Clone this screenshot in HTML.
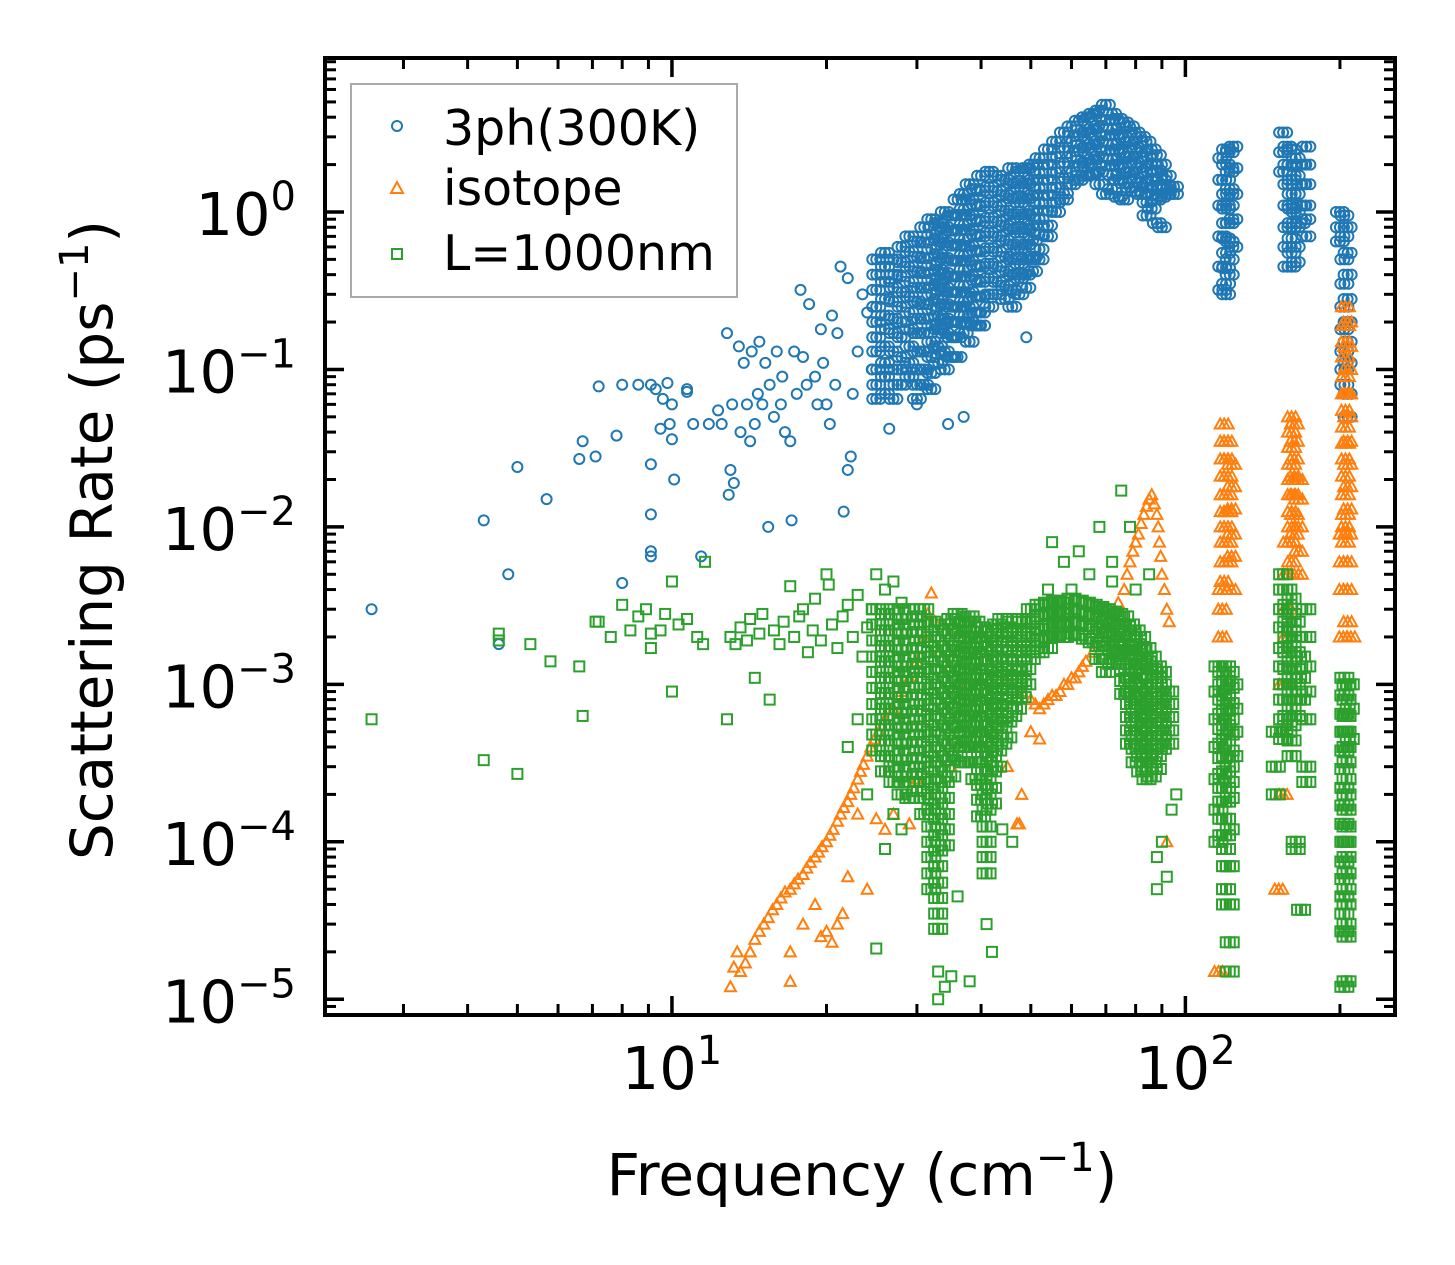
<!DOCTYPE html>
<html><head><meta charset="utf-8">
<style>
html,body{margin:0;padding:0;background:#fff;}
svg{display:block;font-family:"DejaVu Sans","Liberation Sans",sans-serif;}
</style></head>
<body>
<svg id="chart" width="1455" height="1265" viewBox="0 0 1455 1265" xmlns="http://www.w3.org/2000/svg">
<rect x="0" y="0" width="1455" height="1265" fill="#fff"/>
<g id="marks"></g>
<g id="axes"></g>
<g id="legend">
<rect x="351" y="84" width="386" height="213" fill="#fff" fill-opacity="0.8" stroke="#aaa" stroke-width="2"/>
<circle cx="397" cy="126" r="5" fill="none" stroke="#1f77b4" stroke-width="2"/>
<text x="443" y="145" font-size="49" fill="#000">3ph(300K)</text>
<path d="M391,193 L397,182 L403,193 Z" fill="none" stroke="#ff7f0e" stroke-width="2"/>
<text x="443" y="205" font-size="49" fill="#000">isotope</text>
<rect x="392" y="249" width="10" height="10" fill="none" stroke="#2ca02c" stroke-width="2"/>
<text x="443" y="270" font-size="49" fill="#000">L=1000nm</text>
</g>
<text x="862" y="1195" font-size="58" text-anchor="middle">Frequency (cm<tspan dy="-24" font-size="40">−1</tspan><tspan dy="24">)</tspan></text>
<text transform="translate(112,540) rotate(-90)" font-size="58" text-anchor="middle">Scattering Rate (ps<tspan dy="-24" font-size="40">−1</tspan><tspan dy="24">)</tspan></text>
</svg>
<script>
// ---- data (frequency cm^-1, scattering rate ps^-1) ----
const threePhSparse = [[2.6,3e-3],[4.3,1.1e-2],[4.6,1.8e-3],[4.8,5e-3],[5.0,2.4e-2],[5.7,1.5e-2],[6.6,2.7e-2],[6.7,3.5e-2],[7.1,2.8e-2],[7.2,7.8e-2],[7.8,3.8e-2],[8.0,8e-2],[8.0,4.4e-3],[8.6,8e-2],[9.1,8e-2],[9.1,2.5e-2],[9.1,1.2e-2],[9.1,7e-3],[9.1,6.5e-3],[9.3,7.5e-2],[9.5,4.2e-2],[9.6,6.5e-2],[9.8,8.2e-2],[9.9,4.5e-2],[10.0,3.6e-2],[10.0,6e-2],[10.1,2e-2],[10.7,7.5e-2],[10.7,7.2e-2],[11.0,4.5e-2],[11.4,6.5e-3],[11.8,4.5e-2],[12.3,5.5e-2],[12.5,4.5e-2],[12.8,1.7e-1],[12.9,1.6e-2],[13.0,2.3e-2],[13.2,1.9e-2],[13.1,6e-2],[13.5,1.4e-1],[13.6,4e-2],[13.8,1.1e-1],[14.0,6e-2],[14.2,3.5e-2],[14.3,1.3e-1],[14.5,4.5e-2],[14.7,7e-2],[14.8,1.5e-1],[15.0,6e-2],[15.2,1.1e-1],[15.4,1e-2],[15.5,8e-2],[15.8,5e-2],[16.0,1.3e-1],[16.3,6e-2],[16.4,9e-2],[16.6,4e-2],[17.0,3.5e-2],[17.1,1.1e-2],[17.3,1.3e-1],[17.5,7e-2],[17.8,3.2e-1],[18.0,1.2e-1],[18.3,8e-2],[18.5,2.6e-1],[19.0,9e-2],[19.2,6e-2],[19.5,1.8e-1],[19.7,1.1e-1],[20.0,6e-2],[20.3,4.5e-2],[20.5,2.2e-1],[20.8,8e-2],[21.0,1.7e-1],[21.3,4.5e-1],[21.6,1.25e-2],[22.0,2.3e-2],[22.0,3.8e-1],[22.3,2.8e-2],[22.5,7e-2],[23.0,1.3e-1],[23.5,3e-1],[24.0,2.3e-1],[24.5,1e-1],[26.5,4.2e-2],[34.5,4.5e-2],[49,1.6e-1],[37,5e-2],[30,6e-2],[29,9e-2]];
const threePhCols = [
[25,[0.5,0.4,0.32,0.25,0.2,0.16,0.13,0.1,0.08,0.065]],
[26,[0.55,0.45,0.36,0.28,0.22,0.18,0.14,0.11,0.09,0.07]],
[27,[0.5,0.4,0.33,0.27,0.21,0.17,0.13,0.1,0.08,0.065]],
[28,[0.6,0.48,0.39,0.31,0.25,0.2,0.16,0.12,0.1,0.08]],
[29,[0.7,0.56,0.45,0.36,0.29,0.23,0.18,0.14,0.11,0.09]],
[30,[0.65,0.52,0.42,0.33,0.27,0.21,0.17,0.13,0.1,0.08,0.065]],
[31,[0.8,0.64,0.51,0.41,0.33,0.26,0.21,0.17,0.13,0.1,0.08]],
[32,[0.9,0.72,0.58,0.46,0.37,0.3,0.24,0.19,0.15,0.12,0.095,0.075]],
[33,[0.85,0.68,0.54,0.43,0.35,0.28,0.22,0.18,0.14,0.11]],
[34,[1.0,0.8,0.64,0.51,0.41,0.33,0.26,0.21,0.17,0.13,0.1]],
[35,[0.95,0.76,0.61,0.49,0.39,0.31,0.25,0.2,0.16,0.12]],
[36,[1.2,0.96,0.77,0.62,0.49,0.39,0.31,0.25,0.2,0.16,0.12]],
[37,[1.3,1.04,0.83,0.67,0.53,0.43,0.34,0.27,0.22,0.17]],
[38,[1.5,1.2,0.96,0.77,0.61,0.49,0.39,0.31,0.25,0.2,0.15]],
[39,[1.4,1.12,0.9,0.72,0.57,0.46,0.37,0.29,0.23,0.19]],
[40,[1.7,1.36,1.09,0.87,0.7,0.56,0.45,0.36,0.29,0.23,0.19]],
[41.5,[1.8,1.44,1.15,0.92,0.74,0.59,0.47,0.38,0.3,0.25]],
[43,[1.7,1.36,1.09,0.87,0.7,0.56,0.45,0.36,0.3]],
[44.5,[1.6,1.28,1.02,0.82,0.66,0.52,0.42,0.34,0.28]],
[46,[1.9,1.52,1.22,0.97,0.78,0.62,0.5,0.4,0.32,0.25]],
[47.5,[1.8,1.44,1.15,0.92,0.74,0.59,0.47,0.38,0.3]],
[49,[1.9,1.52,1.22,0.97,0.78,0.62,0.5,0.4,0.33]],
[50.5,[2.0,1.6,1.28,1.02,0.82,0.66,0.52,0.42]],
[52,[2.2,1.76,1.41,1.13,0.9,0.72,0.58,0.5]],
[54,[2.5,2.0,1.6,1.28,1.02,0.82,0.7]],
[56,[2.8,2.24,1.79,1.43,1.15,1.0]],
[58,[3.2,2.56,2.05,1.64,1.31,1.2]],
[60,[3.5,2.8,2.24,1.79,1.5]],
[62,[3.8,3.04,2.43,1.95,1.6]],
[64,[4.0,3.2,2.56,2.05,1.7]],
[66,[4.2,3.36,2.69,2.15,1.75]],
[68,[4.4,3.52,2.82,2.25,1.8,1.5]],
[70,[4.8,3.84,3.07,2.46,1.97,1.3]],
[72,[4.2,3.36,2.69,2.15,1.72,1.4]],
[74,[3.9,3.12,2.5,2.0,1.6,1.25]],
[76,[3.7,2.96,2.37,1.9,1.52,1.2]],
[78,[3.5,2.8,2.24,1.79,1.43]],
[80,[3.2,2.56,2.05,1.64,1.35]],
[82,[3.0,2.4,1.92,1.54,1.3]],
[84,[2.8,2.24,1.79,1.43,1.15,0.95]],
[86,[2.5,2.0,1.6,1.28,1.05]],
[88,[2.3,1.84,1.47,1.2,0.85]],
[90,[2.0,1.6,1.4,1.25,0.8]],
[92,[1.7,1.45,1.3]],
[95,[1.45,1.3]]
];
const threePhClusters = [
[118,[2.2,1.6,1.1,0.7,0.45,0.32]],[120,[2.5,2.0,1.6,1.3,1.05,0.85,0.68,0.55,0.44,0.35,0.3]],[122,[2.4,1.8,1.4,1.1,0.85,0.65,0.5,0.4]],[124,[2.6,1.9,1.3,0.9,0.6]],
[155,[3.2,2.4,1.8]],[158,[2.6,2.0,1.5,1.1,0.8,0.6,0.45]],[161,[2.5,2.0,1.6,1.3,1.05,0.85,0.68,0.55,0.45]],[164,[2.2,1.7,1.3,1.0,0.8,0.6,0.48]],[168,[2.0,1.5,1.1,0.85]],[172,[2.6,2.0,1.5,1.1,0.9,0.7]],
[200,[1.0,0.8,0.65]],[204,[0.95,0.7,0.5,0.35,0.25,0.18,0.13,0.1,0.08]],[207,[0.8,0.55,0.4,0.28,0.2,0.15,0.11,0.07,0.05]]
];
const isotopeLine = [[13,1.2e-5],[13.2,1.6e-5],[13.4,2e-5],[13.6,1.5e-5],[13.9,1.7e-5],[14.2,2e-5],[14.5,2.4e-5],[14.8,2.7e-5],[15.1,3e-5],[15.4,3.3e-5],[15.7,3.7e-5],[16,4e-5],[16.3,4.4e-5],[16.6,4.8e-5],[17,5e-5],[17.3,5.4e-5],[17.6,5.8e-5],[18,6.2e-5],[18.3,6.8e-5],[18.6,7.4e-5],[19,8e-5],[19.3,8.6e-5],[19.6,9.3e-5],[20,1e-4],[20.3,1.1e-4],[20.6,1.2e-4],[21,1.35e-4],[21.3,1.5e-4],[21.6,1.65e-4],[22,1.8e-4],[22.3,2e-4],[22.6,2.2e-4],[23,2.5e-4],[23.3,2.8e-4],[23.6,3.1e-4],[24,3.5e-4],[24.4,4e-4],[24.8,4.5e-4],[25.3,5e-4],[26,6e-4],[27,7e-4],[28,9e-4],[29,1.1e-3],[30,1.4e-3],[31,2e-3],[31.5,2.8e-3],[32,3.8e-3],[32.5,2.5e-3],[33,1.6e-3],[34,1.2e-3],[36,1e-3],[40,1e-3],[45,1e-3],[48,9e-4],[50,8e-4],[51,7.5e-4],[52,7e-4],[53,7.5e-4],[54,8e-4],[55,8.5e-4],[56,8.5e-4],[57,9e-4],[58,1e-3],[59,1e-3],[60,1.1e-3],[61,1.1e-3],[62,1.2e-3],[63,1.3e-3],[64,1.4e-3],[66,1.6e-3],[68,2e-3],[70,2.4e-3],[72,2.8e-3],[74,3.3e-3],[76,4e-3],[77,5e-3],[78,6e-3],[79,7e-3],[80,8e-3],[81,9e-3],[82,1.05e-2],[83,1.2e-2],[84,1.35e-2],[85,1.5e-2],[86,1.6e-2],[87,1.4e-2],[88,1.2e-2],[88.5,1e-2],[89,8e-3],[89.5,6.5e-3],[90,5e-3],[91,4e-3],[92,3e-3],[93,2.5e-3]];
const isotopeScatter = [[17,2e-5],[17,1.3e-5],[18,3e-5],[19,4e-5],[19.5,2.5e-5],[20,2.7e-5],[20.5,2.3e-5],[21,3e-5],[21.5,3.5e-5],[22,6e-5],[23,1.5e-4],[24,5e-5],[25,1.4e-4],[26,1.2e-4],[27,1.5e-4],[29,1.3e-4],[30,2.5e-4],[35,3e-4],[40,4e-4],[45,3e-4],[47,1.3e-4],[47.5,1.3e-4],[48,2e-4],[50,5e-4],[52,4.5e-4],[74,2e-3],[85,8e-4],[92,1e-4]];
const isotopeSpikes = [
[116,[1.5e-5]],[118,[4e-3,3e-3,2e-3]],[119,[4.5e-2,3.5e-2,2.7e-2,2.1e-2,1.6e-2,1.25e-2,1e-2,8e-3,6e-3,4.5e-3]],[121,[3.5e-2,2.7e-2,2.1e-2,1.6e-2,1.25e-2,1e-2,8e-3,6e-3]],[123,[2.5e-2,1.8e-2,1.3e-2,9e-3,6.5e-3,4e-3]],
[152,[5e-5]],[155,[2e-4,1e-3]],[158,[8e-3,5e-3,3e-3,2e-3]],[161,[5e-2,4e-2,3.2e-2,2.5e-2,2e-2,1.6e-2,1.25e-2,1e-2,8e-3,6e-3]],[163,[4.5e-2,3.5e-2,2.7e-2,2.1e-2,1.6e-2,1.2e-2,9e-3]],[166,[2e-2,1.5e-2,1e-2,7e-3,5e-3]],
[203,[2e-3,4e-3,6e-3,9e-3]],[205,[0.25,0.19,0.15,0.12,0.09,0.07,0.055,0.043,0.034,0.027,0.021,0.016,0.012,0.01,8e-3]],[207,[0.2,0.14,0.1,0.07,0.05,0.035,0.025,0.018,0.013,9e-3,6e-3,4e-3,2.5e-3]],[210,[2e-3]]
];
const boundarySparse = [[2.6,6e-4],[4.3,3.3e-4],[4.6,2.1e-3],[4.6,1.9e-3],[5.0,2.7e-4],[5.3,1.8e-3],[5.8,1.4e-3],[6.6,1.3e-3],[6.7,6.3e-4],[7.1,2.5e-3],[7.2,2.5e-3],[7.6,2e-3],[8.0,3.2e-3],[8.3,2.2e-3],[8.6,2.7e-3],[8.9,3e-3],[9.1,1.7e-3],[9.1,2.1e-3],[9.5,2.2e-3],[9.7,2.8e-3],[10.0,4.5e-3],[10.0,9e-4],[10.3,2.4e-3],[10.7,2.6e-3],[11.2,2e-3],[11.5,1.8e-3],[11.6,6e-3],[12.8,6e-4],[13.0,2e-3],[13.3,1.8e-3],[13.6,2.3e-3],[14.0,1.9e-3],[14.2,2.6e-3],[14.5,1.1e-3],[14.8,2.1e-3],[15.0,2.8e-3],[15.5,8e-4],[15.8,2.2e-3],[16.2,1.8e-3],[16.5,2.5e-3],[17.0,4.2e-3],[17.3,2e-3],[17.7,2.7e-3],[18.0,3e-3],[18.4,1.6e-3],[18.8,2.2e-3],[19.0,3.5e-3],[19.5,1.9e-3],[20.0,5e-3],[20.2,4.3e-3],[20.5,2.4e-3],[21.0,1.7e-3],[21.5,2.7e-3],[22,3.2e-3],[22.5,2e-3],[23,3.7e-3],[23.5,1.5e-3],[24,2.3e-3],[24.5,3e-3],[25,5e-3],[26,4e-3],[27,4.5e-3],[28,3.3e-3],[22,4e-4],[23,6e-4],[24,2e-4],[25,2.1e-5],[26,9e-5],[27,1.5e-4],[28,1.2e-4],[38,1.3e-5],[36,4.5e-5],[41,3e-5],[42,2e-5],[46,1e-4],[44,1.2e-4],[34,1.2e-5],[33,1.5e-5],[35,1.4e-5],[33,1e-5],[55,8e-3],[58,6e-3],[62,7e-3],[65,5e-3],[68,1e-2],[72,6e-3],[75,1.7e-2],[78,1e-2],[85,5e-3],[54,4e-3],[60,4e-3],[72,4.5e-3],[80,4e-3],[88,8e-5],[90,1e-4],[92,6e-5],[94,1.6e-4],[88,5e-5],[96,2e-4]];
const boundaryCols = [
[25,[3e-3,2.4e-3,1.9e-3,1.5e-3,1.2e-3,9.5e-4,7.5e-4,6e-4,4.8e-4,3.8e-4]],
[26,[2.8e-3,2.2e-3,1.75e-3,1.4e-3,1.1e-3,8.8e-4,7e-4,5.5e-4,4.4e-4,3.5e-4,2.8e-4]],
[27,[3e-3,2.4e-3,1.9e-3,1.5e-3,1.2e-3,9.5e-4,7.5e-4,6e-4,4.8e-4,3.8e-4,3e-4,2.4e-4]],
[28,[2.6e-3,2.1e-3,1.65e-3,1.3e-3,1.05e-3,8.3e-4,6.6e-4,5.3e-4,4.2e-4,3.3e-4,2.6e-4,2e-4]],
[29,[3e-3,2.4e-3,1.9e-3,1.5e-3,1.2e-3,9.5e-4,7.5e-4,6e-4,4.8e-4,3.8e-4,3e-4,2.4e-4,1.9e-4]],
[30,[2.7e-3,2.15e-3,1.7e-3,1.35e-3,1.1e-3,8.6e-4,6.8e-4,5.4e-4,4.3e-4,3.4e-4,2.7e-4,2.1e-4]],
[31,[3e-3,2.4e-3,1.9e-3,1.5e-3,1.2e-3,9.5e-4,7.5e-4,6e-4,4.8e-4,3.8e-4,3e-4,2.4e-4,1.9e-4,1.5e-4]],
[32,[2.5e-3,2e-3,1.6e-3,1.25e-3,1e-3,8e-4,6.3e-4,5e-4,4e-4,3.2e-4,2.5e-4,2e-4,1.6e-4,1.25e-4,1e-4,8e-5,6.3e-5,5e-5]],
[33,[2.2e-3,1.75e-3,1.4e-3,1.1e-3,8.8e-4,7e-4,5.5e-4,4.4e-4,3.5e-4,2.8e-4,2.2e-4,1.75e-4,1.4e-4,1.1e-4,8.8e-5,7e-5,5.5e-5,4.4e-5,3.5e-5,2.8e-5]],
[34,[2.4e-3,1.9e-3,1.5e-3,1.2e-3,9.5e-4,7.5e-4,6e-4,4.8e-4,3.8e-4,3e-4,2.4e-4,1.9e-4,1.5e-4,1.2e-4,9.5e-5]],
[35,[2.6e-3,2.1e-3,1.65e-3,1.3e-3,1.05e-3,8.3e-4,6.6e-4,5.3e-4,4.2e-4,3.3e-4,2.6e-4]],
[36,[2.8e-3,2.2e-3,1.75e-3,1.4e-3,1.1e-3,8.8e-4,7e-4,5.5e-4,4.4e-4,3.5e-4]],
[37,[2.5e-3,2e-3,1.6e-3,1.25e-3,1e-3,8e-4,6.3e-4,5e-4,4e-4,3.2e-4]],
[38,[2.7e-3,2.15e-3,1.7e-3,1.35e-3,1.1e-3,8.6e-4,6.8e-4,5.4e-4,4.3e-4]],
[39,[2.5e-3,2e-3,1.6e-3,1.25e-3,1e-3,8e-4,6.3e-4,5e-4,4e-4,3.2e-4,2.5e-4]],
[40,[2.3e-3,1.85e-3,1.45e-3,1.15e-3,9.2e-4,7.3e-4,5.8e-4,4.6e-4,3.7e-4,2.9e-4,2.3e-4,1.85e-4,1.45e-4]],
[41,[2e-3,1.6e-3,1.25e-3,1e-3,8e-4,6.3e-4,5e-4,4e-4,3.2e-4,2.5e-4,2e-4,1.6e-4,1.25e-4,1e-4,8e-5,6.3e-5]],
[42,[2.2e-3,1.75e-3,1.4e-3,1.1e-3,8.8e-4,7e-4,5.5e-4,4.4e-4,3.5e-4,2.8e-4,2.2e-4,1.75e-4]],
[43,[2.4e-3,1.9e-3,1.5e-3,1.2e-3,9.5e-4,7.5e-4,6e-4,4.8e-4,3.8e-4,3e-4]],
[44,[2.6e-3,2.1e-3,1.65e-3,1.3e-3,1.05e-3,8.3e-4,6.6e-4,5.3e-4,4.2e-4]],
[45,[2.3e-3,1.85e-3,1.45e-3,1.15e-3,9.2e-4,7.3e-4,5.8e-4,4.6e-4]],
[46,[2.5e-3,2e-3,1.6e-3,1.25e-3,1e-3,8e-4,6.3e-4]],
[47,[2.2e-3,1.75e-3,1.4e-3,1.1e-3,8.8e-4,7e-4]],
[48,[2.6e-3,2.1e-3,1.65e-3,1.3e-3,1.05e-3,8.3e-4]],
[49,[2.5e-3,2e-3,1.6e-3,1.25e-3,1e-3]],
[50,[3e-3,2.5e-3,2.1e-3,1.75e-3,1.45e-3]],
[52,[3.2e-3,2.7e-3,2.25e-3,1.9e-3,1.6e-3]],
[54,[3.3e-3,2.8e-3,2.35e-3,2e-3,1.7e-3]],
[56,[3.4e-3,2.9e-3,2.45e-3,2.05e-3]],
[58,[3.3e-3,2.8e-3,2.35e-3,2e-3]],
[60,[3.5e-3,3e-3,2.5e-3,2.1e-3]],
[62,[3.4e-3,2.9e-3,2.45e-3,2.05e-3]],
[64,[3.3e-3,2.8e-3,2.35e-3,1.95e-3]],
[66,[3.2e-3,2.7e-3,2.25e-3,1.85e-3]],
[68,[3.1e-3,2.6e-3,2.15e-3,1.75e-3,1.45e-3]],
[70,[3e-3,2.5e-3,2.1e-3,1.75e-3,1.45e-3,1.2e-3]],
[72,[2.9e-3,2.4e-3,2e-3,1.65e-3,1.35e-3]],
[74,[2.8e-3,2.3e-3,1.9e-3,1.6e-3]],
[76,[2.7e-3,2.2e-3,1.8e-3,1.5e-3,1.25e-3,1.05e-3,8.7e-4]],
[78,[2.4e-3,2e-3,1.65e-3,1.35e-3,1.1e-3,9e-4,7.5e-4,6.2e-4,5.1e-4,4.2e-4]],
[80,[2.2e-3,1.8e-3,1.5e-3,1.25e-3,1e-3,8.3e-4,6.9e-4,5.7e-4,4.7e-4,3.9e-4,3.2e-4]],
[82,[2e-3,1.65e-3,1.35e-3,1.1e-3,9e-4,7.5e-4,6.2e-4,5.1e-4,4.2e-4,3.5e-4,2.8e-4]],
[84,[1.7e-3,1.4e-3,1.15e-3,9.5e-4,7.8e-4,6.4e-4,5.3e-4,4.4e-4,3.6e-4,3e-4,2.5e-4]],
[86,[1.5e-3,1.25e-3,1e-3,8.3e-4,6.9e-4,5.7e-4,4.7e-4,3.9e-4,3.2e-4,2.6e-4]],
[88,[1.3e-3,1.1e-3,9e-4,7.5e-4,6.2e-4,5.1e-4,4.2e-4,3.5e-4,2.9e-4]],
[90,[1.2e-3,1e-3,8.3e-4,6.9e-4,5.7e-4,4.7e-4,3.9e-4]],
[93,[9e-4,7.5e-4,6.2e-4,5.1e-4,4.2e-4]]
];
const boundaryClusters = [
[116,[1.3e-3,9e-4,6e-4,4e-4,2.5e-4,1.6e-4,1e-4]],[118,[1.2e-3,1e-3,8e-4,6.5e-4,5.2e-4,4.2e-4,3.4e-4,2.7e-4,2.2e-4,1.8e-4,1.4e-4,1.1e-4]],[120,[1.3e-3,1.05e-3,8.5e-4,6.8e-4,5.5e-4,4.4e-4,3.5e-4,2.8e-4,2.2e-4,1.8e-4,1.4e-4,1.1e-4,9e-5,7e-5,5e-5,4e-5]],[122,[1.2e-3,9.5e-4,7.6e-4,6e-4,4.8e-4,3.8e-4,3e-4,2.4e-4,1.9e-4,1.2e-4,7e-5,4e-5,2.3e-5,1.5e-5]],[124,[1e-3,7e-4,5e-4,3.5e-4]],
[150,[3e-4,5e-4,2e-4]],[155,[5e-3,4e-3,3e-3,2.3e-3,1.7e-3,1.3e-3,1e-3,8e-4,6e-4,4.5e-4]],[158,[4e-3,3.2e-3,2.5e-3,2e-3,1.6e-3,1.25e-3,1e-3,8e-4,6.3e-4,5e-4]],[161,[3.5e-3,2.8e-3,2.2e-3,1.75e-3,1.4e-3,1.1e-3,9e-4,7e-4,5.5e-4,4.4e-4,3.5e-4]],[164,[2.5e-3,2e-3,1.6e-3,1.25e-3,1e-3,8e-4,6.3e-4,1e-4,9e-5]],[168,[1.5e-3,1.1e-3,8e-4,3.7e-5]],[172,[3e-3,2e-3,1.3e-3,9e-4,6e-4,3e-4,2.4e-4]],
[204,[1.1e-3,8.5e-4,6.5e-4,5e-4,3.8e-4,2.9e-4,2.2e-4,1.7e-4,1.3e-4,1e-4,7.5e-5,5.8e-5,4.5e-5,3.5e-5,2.7e-5,1.2e-5]],[206,[1e-3,8e-4,6.3e-4,5e-4,4e-4,3.2e-4,2.5e-4,2e-4,1.6e-4,1.25e-4,1e-4,8e-5,6.3e-5,5e-5,4e-5,3e-5,2.5e-5,1.3e-5]],[209,[1e-3,7e-4,4.5e-4]]
];
const xTickVals = [10,100];
const xTickLabels = ["1","2"];
const yTickVals = [1,0.1,0.01,1e-3,1e-4,1e-5];
const yTickLabels = ["0","−1","−2","−3","−4","−5"];

// ---- axis functions ----
const X0=325,X1=1395,Y0=58,Y1=1015;
const xMin=Math.log10(2.11), xMax=Math.log10(256);
const yMin=-5.1, yMax=0.978;
function xs(f){return X0+(Math.log10(f)-xMin)/(xMax-xMin)*(X1-X0);}
function ys(r){return Y1-(Math.log10(r)-yMin)/(yMax-yMin)*(Y1-Y0);}

const NS="http://www.w3.org/2000/svg";
const marks=document.getElementById('marks');
const axes=document.getElementById('axes');
function mk(tag,attrs,parent){const e=document.createElementNS(NS,tag);for(const k in attrs)e.setAttribute(k,attrs[k]);parent.appendChild(e);return e;}

const gBlue=mk('g',{},marks);


const gOrange=mk('g',{},marks);


const gGreen=mk('g',{},marks);



// dense columns are rendered with a small horizontal spread (pixel style, not data)
const spread=[-4,0,4];
function circle(p,dx){const e=mk('circle',{cx:xs(p[0])+dx,cy:ys(p[1]),r:5,fill:'none',stroke:'#1f77b4','stroke-width':2},gBlue);

}
function tri(p,dx){const x=xs(p[0])+dx,y=ys(p[1]);const e=mk('path',{d:`M${x-5.5},${y+4.5} L${x},${y-5.5} L${x+5.5},${y+4.5} Z`,fill:'none',stroke:'#ff7f0e','stroke-width':2},gOrange);

}
function sq(p,dx){const x=xs(p[0])+dx,y=ys(p[1]);const e=mk('rect',{x:x-5,y:y-5,width:10,height:10,fill:'none',stroke:'#2ca02c','stroke-width':2},gGreen);

}
function drawPairs(pairs,fn){pairs.forEach(p=>fn(p,0));}
function drawCols(cols,fn){cols.forEach(c=>c[1].forEach(v=>spread.forEach(dx=>fn([c[0],v],dx))));}

drawPairs(threePhSparse,circle);drawCols(threePhCols,circle);drawCols(threePhClusters,circle);
drawPairs(isotopeLine,tri);drawPairs(isotopeScatter,tri);drawCols(isotopeSpikes,tri);
drawPairs(boundarySparse,sq);drawCols(boundaryCols,sq);drawCols(boundaryClusters,sq);

// ---- axes frame & ticks ----
const frame=mk('rect',{x:X0,y:Y0,width:X1-X0,height:Y1-Y0,fill:'none',stroke:'#000','stroke-width':4},axes);


function line(x1,y1,x2,y2,w){return mk('line',{x1,y1,x2,y2,stroke:'#000','stroke-width':w},axes);}
for(let d=0;d<=2;d++){for(let m=1;m<=9;m++){const f=m*Math.pow(10,d);const x=xs(f);if(x<X0+1||x>X1-1)continue;
 const major=(m===1);const L=major?19:11;const w=major?3.5:3;
 line(x,Y1,x,Y1-L,w);line(x,Y0,x,Y0+L,w);}}
for(let d=-6;d<=0;d++){for(let m=1;m<=9;m++){const r=m*Math.pow(10,d);const y=ys(r);if(y<Y0+1||y>Y1-1)continue;
 const major=(m===1);const L=major?19:11;const w=major?3.5:3;
 line(X0,y,X0+L,y,w);line(X1,y,X1-L,y,w);}}
xTickVals.forEach((v,i)=>{const t=mk('text',{x:xs(v),y:1089,'font-size':59,'text-anchor':'middle'},axes);
 
 
 t.innerHTML=`10<tspan dy="-25" font-size="40">${xTickLabels[i]}</tspan>`;});
yTickVals.forEach((v,i)=>{const t=mk('text',{x:296,y:ys(v)+23,'font-size':59,'text-anchor':'end'},axes);
 
 
 t.innerHTML=`10<tspan dy="-25" font-size="40">${yTickLabels[i]}</tspan>`;});
</script>
</body></html>
